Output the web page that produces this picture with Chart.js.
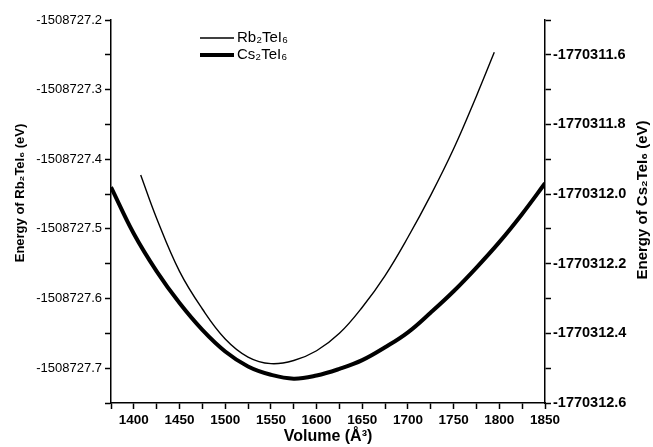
<!DOCTYPE html>
<html>
<head>
<meta charset="utf-8">
<script src="https://cdn.jsdelivr.net/npm/chart.js@4.4.1/dist/chart.umd.min.js"></script>
<style>
    html, body { margin: 0; padding: 0; background: #fff; }
</style>
</head>
<body>
<canvas id="graficoEnergia" width="653" height="447"></canvas>
<script>
// Datos
const volumenRb = [1407.5, 1425, 1450, 1475, 1500, 1525, 1550, 1575, 1600, 1625, 1650, 1675, 1700, 1725, 1750, 1775, 1794.5];
const energiaRb = [-1508727.4226, -1508727.485, -1508727.561, -1508727.615, -1508727.658, -1508727.684, -1508727.6935, -1508727.689,
    -1508727.675, -1508727.650, -1508727.6125, -1508727.567, -1508727.512, -1508727.4515, -1508727.385, -1508727.309, -1508727.2464];

const volumenCs = [1375, 1400, 1425, 1450, 1475, 1500, 1525, 1550, 1575, 1600, 1625, 1650, 1675, 1700, 1725, 1750, 1775, 1800, 1825, 1850];
const energiaCs = [-1770311.980, -1770312.114, -1770312.222, -1770312.313, -1770312.390, -1770312.452, -1770312.495, -1770312.519,
    -1770312.530, -1770312.521, -1770312.502, -1770312.477, -1770312.440, -1770312.397, -1770312.340, -1770312.279, -1770312.211,
    -1770312.138, -1770312.057, -1770311.969];

// Marcas de los ejes (todas) y las que llevan etiqueta
const ticksVolumen = [1375, 1400, 1425, 1450, 1475, 1500, 1525, 1550, 1575, 1600, 1625, 1650, 1675, 1700, 1725, 1750, 1775, 1800, 1825, 1850];
const etiquetasVolumen = [1400, 1450, 1500, 1550, 1600, 1650, 1700, 1750, 1800, 1850];

const ticksRb = [-1508727.75, -1508727.7, -1508727.65, -1508727.6, -1508727.55, -1508727.5, -1508727.45, -1508727.4, -1508727.35, -1508727.3, -1508727.25, -1508727.2];
const etiquetasRb = [-1508727.7, -1508727.6, -1508727.5, -1508727.4, -1508727.3, -1508727.2];

const ticksCs = [-1770312.6, -1770312.5, -1770312.4, -1770312.3, -1770312.2, -1770312.1, -1770312.0, -1770311.9, -1770311.8, -1770311.7, -1770311.6, -1770311.5];
const etiquetasCs = [-1770312.6, -1770312.4, -1770312.2, -1770312.0, -1770311.8, -1770311.6];

const fuente = '"Liberation Sans", Arial, sans-serif';

function Puntos(xs, ys) {
    return xs.map((x, i) => ({ x: x, y: ys[i] }));
}

function Etiqueta(lista) {
    return function (value) {
        return lista.some(m => Math.abs(m - value) < 1e-6) ? value.toFixed(lista === etiquetasVolumen ? 0 : 1) : '';
    };
}

function FijarTicks(lista) {
    return function (scale) {
        scale.ticks = lista.map(v => ({ value: v }));
    };
}

const ejeComun = {
    border: { display: true, color: '#000', width: 1.5 },
    grid: { drawOnChartArea: false, tickLength: 6, tickColor: '#000', tickWidth: 1.5 },
};

// Leyenda y titulos de eje Y dibujados a mano
const pluginExtras = {
    id: 'extras',
    afterDraw(chart) {
        const ctx = chart.ctx;
        ctx.save();
        ctx.fillStyle = '#000';
        ctx.strokeStyle = '#000';
        ctx.textBaseline = 'middle';

        // leyenda
        ctx.font = '15px ' + fuente;
        ctx.textAlign = 'left';
        ctx.lineWidth = 1.4;
        ctx.beginPath(); ctx.moveTo(200, 38); ctx.lineTo(234, 38); ctx.stroke();
        ctx.fillText('Rb₂TeI₆', 237, 38);
        ctx.lineWidth = 4;
        ctx.beginPath(); ctx.moveTo(200, 55); ctx.lineTo(234, 55); ctx.stroke();
        ctx.fillText('Cs₂TeI₆', 237, 55);

        // titulo eje izquierdo
        ctx.textAlign = 'center';
        ctx.save();
        ctx.translate(20, 193);
        ctx.rotate(-Math.PI / 2);
        ctx.font = 'bold 13px ' + fuente;
        ctx.fillText('Energy of Rb₂TeI₆ (eV)', 0, 0);
        ctx.restore();

        // titulo eje derecho
        ctx.save();
        ctx.translate(643, 200);
        ctx.rotate(-Math.PI / 2);
        ctx.font = 'bold 15px ' + fuente;
        ctx.fillText('Energy of Cs₂TeI₆ (eV)', 0, 0);
        ctx.restore();

        ctx.restore();
    }
};

let ctxEnergia = document.getElementById('graficoEnergia');
let graficoEnergia = new Chart(ctxEnergia, {
    type: 'line',
    data: {
        datasets: [{
            label: 'Rb₂TeI₆',
            data: Puntos(volumenRb, energiaRb),
            yAxisID: 'y',
            borderColor: '#000',
            borderWidth: 1.4,
            pointRadius: 0,
            tension: 0.4,
            fill: false,
        }, {
            label: 'Cs₂TeI₆',
            data: Puntos(volumenCs, energiaCs),
            yAxisID: 'y1',
            borderColor: '#000',
            borderWidth: 4,
            pointRadius: 0,
            tension: 0.4,
            fill: false,
        }],
    },
    options: {
        responsive: false,
        animation: false,
        devicePixelRatio: 1,
        layout: { padding: { top: 20, left: 0, right: 0, bottom: 0 } },
        plugins: {
            legend: { display: false },
            tooltip: { enabled: false },
        },
        scales: {
            x: {
                ...ejeComun,
                type: 'linear',
                min: 1375,
                max: 1850,
                afterBuildTicks: FijarTicks(ticksVolumen),
                afterFit: function (scale) { scale.height = 44; },
                ticks: {
                    color: '#000',
                    padding: 3,
                    maxRotation: 0,
                    autoSkip: false,
                    font: { family: fuente, size: 13.5, weight: 'bold' },
                    callback: Etiqueta(etiquetasVolumen),
                },
                title: {
                    display: true,
                    text: 'Volume (Å³)',
                    color: '#000',
                    padding: { top: 0, bottom: 1 },
                    font: { family: fuente, size: 16, weight: 'bold' },
                },
            },
            y: {
                ...ejeComun,
                position: 'left',
                min: -1508727.75,
                max: -1508727.2,
                afterBuildTicks: FijarTicks(ticksRb),
                afterFit: function (scale) { scale.width = 111; },
                ticks: {
                    color: '#000',
                    padding: 3,
                    autoSkip: false,
                    font: { family: fuente, size: 13 },
                    callback: Etiqueta(etiquetasRb),
                },
            },
            y1: {
                ...ejeComun,
                position: 'right',
                min: -1770312.6,
                max: -1770311.5,
                afterBuildTicks: FijarTicks(ticksCs),
                afterFit: function (scale) { scale.width = 108; },
                ticks: {
                    color: '#000',
                    padding: 2,
                    autoSkip: false,
                    font: { family: fuente, size: 14.5, weight: 'bold' },
                    callback: Etiqueta(etiquetasCs),
                },
            },
        },
    },
    plugins: [pluginExtras],
});
</script>
</body>
</html>
